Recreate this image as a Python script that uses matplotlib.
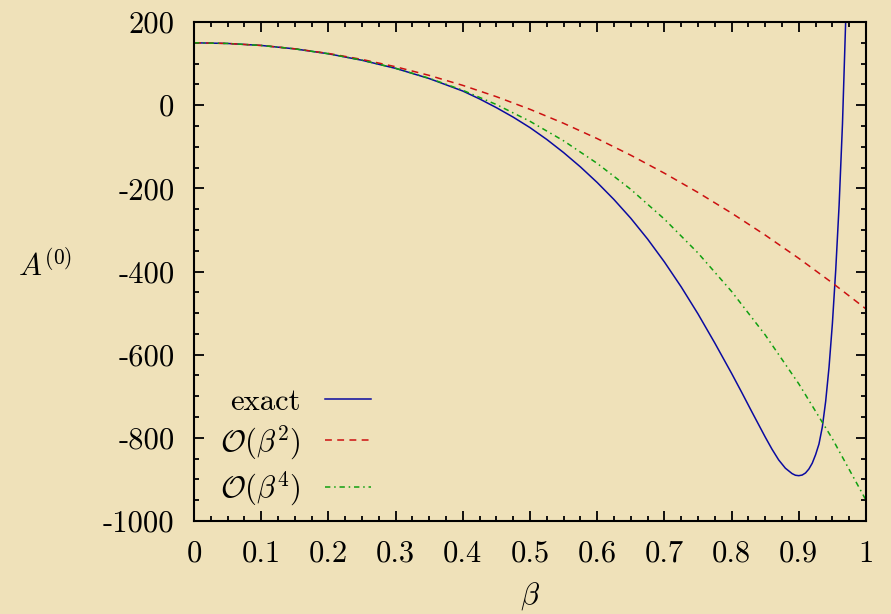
import numpy as np
import matplotlib
matplotlib.use("Agg")
import matplotlib.pyplot as plt

# values
beta = [0.0, 0.05, 0.1, 0.15, 0.2, 0.25, 0.3, 0.35, 0.4, 0.45, 0.5,
        0.55, 0.6, 0.65, 0.7, 0.75, 0.8, 0.85, 0.9, 0.95, 1.0]
order2 = [150, 148.4, 143.6, 135.6, 124.4, 110, 92.4, 71.6, 47.6, 20.4, -10,
          -43.6, -80.4, -120.4, -163.6, -210, -259.6, -312.4, -368.4, -427.6, -490]
order4 = [150, 148.4, 143.6, 135.4, 123.7, 108.2, 88.7, 64.7, 35.8, 1.5, -38.8,
          -85.7, -140, -202.5, -274, -355.5, -448, -552.5, -670.2, -802.3, -950]

beta_exact = [0.0, 0.05, 0.1, 0.15, 0.2, 0.25, 0.3, 0.35, 0.4, 0.425, 0.45,
              0.475, 0.5, 0.525, 0.55, 0.575, 0.6, 0.625, 0.65, 0.675, 0.7,
              0.725, 0.75, 0.775, 0.8, 0.815, 0.83, 0.85, 0.86, 0.87, 0.88,
              0.89, 0.895, 0.9, 0.905, 0.91, 0.915, 0.92, 0.925, 0.93, 0.935,
              0.94, 0.945, 0.95, 0.955, 0.96, 0.965, 0.97, 0.9725]
exact = [150, 148.4, 143.6, 135.4, 123.6, 108, 88.5, 64, 34, 15, -6,
         -28.8, -54, -82.5, -114, -148.4, -186, -227, -272, -322, -377,
         -437, -502, -572, -645, -690.5, -737, -798, -827, -853, -873,
         -886, -890, -891, -889.5, -884.5, -875, -861, -840.5, -815, -774,
         -712, -630, -525, -395, -240, -45, 215, 380]

xticks = [0, 0.1, 0.2, 0.3, 0.4, 0.5, 0.6, 0.7, 0.8, 0.9, 1]
xticklabels = ["0", "0.1", "0.2", "0.3", "0.4", "0.5", "0.6", "0.7", "0.8", "0.9", "1"]
yticks = [-1000, -800, -600, -400, -200, 0, 200]
yticklabels = ["-1000", "-800", "-600", "-400", "-200", "0", "200"]

plt.rcParams["font.family"] = "cmr10"
plt.rcParams["mathtext.fontset"] = "cm"
plt.rcParams["axes.unicode_minus"] = False

bg = "#efe1b9"
fig = plt.figure(figsize=(8.91, 6.14), dpi=100, facecolor=bg)
ax = fig.add_axes([194/891, 1-521/614, 672/891, 499/614])
ax.set_facecolor(bg)

ax.plot(beta_exact, exact, color="#0a0aa0", lw=1.1, label="exact")
ax.plot(beta, order2, color="#cc1010", lw=1.1, dashes=(4.5, 3.5), label=r"$\mathcal{O}(\beta^2)$")
ax.plot(beta, order4, color="#10a010", lw=1.1, dashes=(3.5, 2.5, 1, 2.5), label=r"$\mathcal{O}(\beta^4)$")

ax.set_xlim(0, 1)
ax.set_ylim(-1000, 200)
ax.set_xticks(xticks)
ax.set_xticklabels(xticklabels)
ax.set_yticks(yticks)
ax.set_yticklabels(yticklabels)
ax.set_xticks(np.arange(0, 1.0001, 0.025), minor=True)
ax.set_yticks(np.arange(-1000, 201, 50), minor=True)
ax.tick_params(which="both", direction="in", top=True, right=True, labelsize=22, width=1.3)
ax.tick_params(which="major", length=7, pad=14)
ax.tick_params(which="minor", length=3.5)
for s in ax.spines.values():
    s.set_linewidth(1.5)

fig.text(45/891, 1-265/614, r"$A^{(0)}$", fontsize=22, ha="center", va="center")
fig.text(530/891, 1-596/614, r"$\beta$", fontsize=22, ha="center", va="center")

leg = ax.legend(loc="lower left", bbox_to_anchor=(0.021, 0.002), frameon=False,
                markerfirst=False, fontsize=22, handlelength=1.5,
                handletextpad=0.8, labelspacing=0.25, borderaxespad=0)
for t in leg.get_texts():
    t.set_ha("right")

fig.savefig("out.png", dpi=100, facecolor=bg)
